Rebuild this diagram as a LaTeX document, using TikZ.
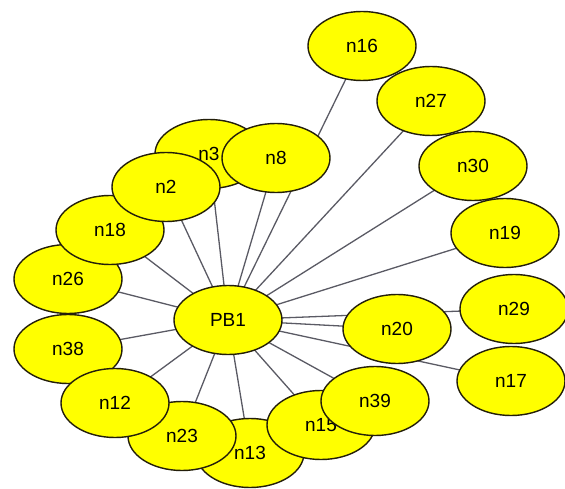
\documentclass[tikz,border=0pt]{standalone}
\usepackage{fontspec}
\setmainfont{Liberation Sans}
\usetikzlibrary{shapes.geometric}
\definecolor{nodefill}{RGB}{255,255,0}
\definecolor{nodeline}{RGB}{35,30,10}
\definecolor{edgeline}{RGB}{90,90,100}
\tikzset{
  protein/.style={ellipse, draw=nodeline, fill=nodefill, line width=1.4pt,
    minimum width=108pt, minimum height=69pt, inner sep=0pt,
    font=\fontsize{19}{19}\selectfont},
  link/.style={draw=edgeline, line width=1.3pt}
}
\begin{document}
\begin{tikzpicture}[x=1pt,y=-1pt]
\useasboundingbox (0,0) rectangle (565,489);
% node positions
\coordinate (cPB1) at (228,320);
\coordinate (c16) at (362,46);
\coordinate (c27) at (431,101);
\coordinate (c30) at (473,166);
\coordinate (c19) at (505,233);
\coordinate (c29) at (514,309);
\coordinate (c17) at (511,381);
\coordinate (c20) at (397,329);
\coordinate (c39) at (375,401);
\coordinate (c15) at (321,425);
\coordinate (c13) at (250,453);
\coordinate (c23) at (182,436);
\coordinate (c12) at (115,403);
\coordinate (c38) at (68,349);
\coordinate (c26) at (68,279);
\coordinate (c18) at (110,230);
\coordinate (c2) at (166,187);
\coordinate (c3) at (209,154);
\coordinate (c8) at (276,158);
% edges from the hub, drawn underneath the nodes
\foreach \n in {16,27,30,19,29,17,20,39,15,13,23,12,38,26,18,2,3,8}
  \draw[link] (cPB1) -- (c\n);
% nodes, back to front
\node[protein] (n13) at (c13) {n13};
\node[protein] (n23) at (c23) {n23};
\node[protein] (n15) at (c15) {n15};
\node[protein] (n39) at (c39) {n39};
\node[protein] (n20) at (c20) {n20};
\node[protein] (n38) at (c38) {n38};
\node[protein] (n12) at (c12) {n12};
\node[protein] (n26) at (c26) {n26};
\node[protein] (n18) at (c18) {n18};
\node[protein] (n3) at (c3) {n3};
\node[protein] (n2) at (c2) {n2};
\node[protein] (n8) at (c8) {n8};
\node[protein] (n16) at (c16) {n16};
\node[protein] (n27) at (c27) {n27};
\node[protein] (n30) at (c30) {n30};
\node[protein] (n19) at (c19) {n19};
\node[protein] (n29) at (c29) {n29};
\node[protein] (n17) at (c17) {n17};
\node[protein] (PB1) at (cPB1) {PB1};
\end{tikzpicture}
\end{document}
